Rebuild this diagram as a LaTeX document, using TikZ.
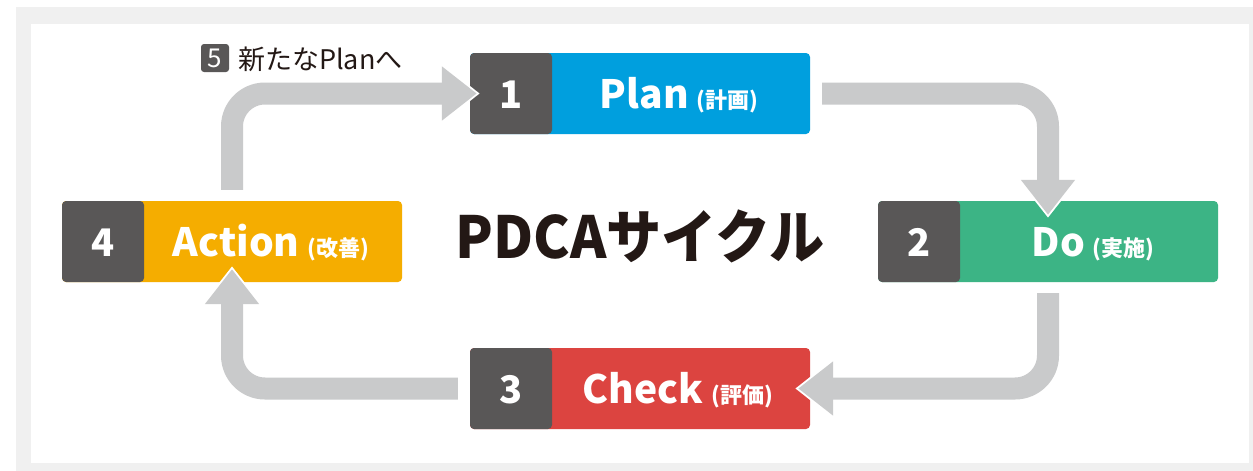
\documentclass[tikz,border=0pt]{standalone}
\usepackage{fontspec}
\usepackage{graphicx}
\setmainfont{Noto Sans CJK JP}
\usetikzlibrary{arrows.meta}
\definecolor{framegray}{HTML}{F0F0F0}
\definecolor{arrowgray}{HTML}{C9CACB}
\definecolor{numgray}{HTML}{595757}
\definecolor{planblue}{HTML}{009FDE}
\definecolor{dogreen}{HTML}{3CB485}
\definecolor{checkred}{HTML}{DC4440}
\definecolor{actorange}{HTML}{F5AD00}
\definecolor{inkblack}{HTML}{231815}
\newcommand{\stagelabel}[2]{{\bfseries\fontsize{39}{39}\selectfont #1}\hspace{8pt}{\bfseries\fontsize{22}{22}\selectfont(#2)}}
\begin{document}
\begin{tikzpicture}[x=1pt,y=-1pt,
  stagebox/.style={rectangle, rounded corners=4pt, minimum width=340pt, minimum height=81pt,
    inner sep=0pt, fill=#1,
    path picture={\fill[numgray] (path picture bounding box.north west) rectangle ([xshift=82pt]path picture bounding box.south west);}},
  numtext/.style={text=white, font=\bfseries\fontsize{38}{38}\selectfont, inner sep=0pt, anchor=base},
  labeltext/.style={text=white, inner sep=0pt, anchor=base},
  flow/.style={draw=arrowgray, line width=22pt, rounded corners=33pt,
    -{Triangle[width=52pt,length=35pt]},
    preaction={draw=white, line width=22pt, shorten >=-3pt, -{Triangle[width=60pt,length=40pt]}}}
]
\useasboundingbox (0,0) rectangle (1253,471);
\fill[framegray] (16,7) rectangle (1253,471);
\fill[white] (31,24) rectangle (1249,463);

% boxes
\node[stagebox=planblue] (plan) at (640,93.5) {};
\node[stagebox=dogreen] (do) at (1048,241.5) {};
\node[stagebox=checkred] (check) at (640,388.5) {};
\node[stagebox=actorange] (action) at (232,241.5) {};

% numbers
\node[numtext] (n1) at ([xshift=41pt,yshift=-14.5pt]plan.west) {1};
\node[numtext] (n2) at ([xshift=41pt,yshift=-14.5pt]do.west) {2};
\node[numtext] (n3) at ([xshift=41pt,yshift=-14.5pt]check.west) {3};
\node[numtext] (n4) at ([xshift=41pt,yshift=-14.5pt]action.west) {4};

% labels
\node[labeltext] (plant) at ([xshift=39pt,yshift=-14.5pt]plan.center) {\stagelabel{Plan}{計画}};
\node[labeltext] (dot) at ([xshift=45pt,yshift=-14.5pt]do.center) {\stagelabel{Do}{実施}};
\node[labeltext] (checkt) at ([xshift=38pt,yshift=-14.5pt]check.center) {\stagelabel{Check}{評価}};
\node[labeltext] (actiont) at ([xshift=39pt,yshift=-14.5pt]action.center) {\stagelabel{Action}{改善}};

% title
\node[anchor=base, inner sep=0pt, text=inkblack, font=\bfseries\fontsize{58}{58}\selectfont] (title) at (640,258) {\scalebox{0.95}[1]{PDCAサイクル}};

% step 5 label
\node[rectangle, rounded corners=3pt, fill=numgray, minimum width=28pt, minimum height=28pt, inner sep=0pt,
  text=white, font=\fontsize{26}{26}\selectfont] (five) at (215,58) {5};
\node[anchor=base west, inner sep=0pt, text=inkblack, font=\fontsize{27}{27}\selectfont] (newplan) at (238,69) {新たなPlanへ};

% connectors
\draw[flow] ([yshift=11pt]action.north) |- ([xshift=7pt]plan.west);
\draw[flow] ([xshift=12pt]plan.east) -| ([yshift=-14pt]do.north);
\draw[flow] ([yshift=-11pt]do.south) |- ([xshift=-12pt]check.east);
\draw[flow] ([xshift=-12pt]check.west) -| ([yshift=13pt]action.south);
\end{tikzpicture}
\end{document}
